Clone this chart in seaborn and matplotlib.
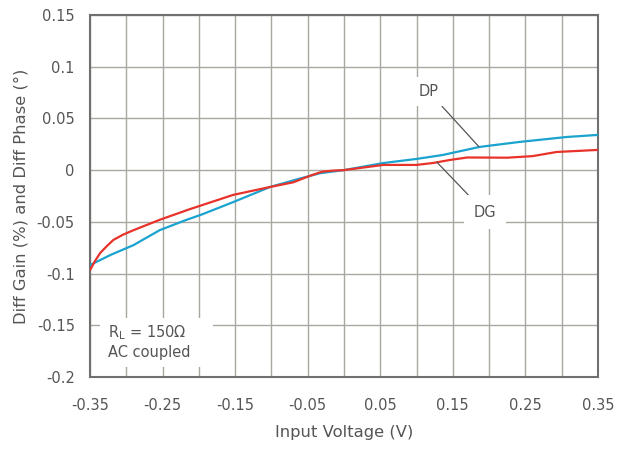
import numpy as np
import pandas as pd
import matplotlib
matplotlib.use('Agg')
import matplotlib.pyplot as plt
from matplotlib.patches import Rectangle
import seaborn as sns

# values
dp_x = [-0.35, -0.322, -0.29, -0.254, -0.217, -0.198, -0.153, -0.102, -0.061, -0.033, 0.0,
        0.054, 0.1, 0.136, 0.187, 0.242, 0.307, 0.35]
dp_y = [-0.0917, -0.082, -0.0724, -0.058, -0.048, -0.0434, -0.031, -0.0163, -0.0082, -0.003, 0.0,
        0.0068, 0.0108, 0.0146, 0.0224, 0.0272, 0.032, 0.034]

dg_x = [-0.35, -0.343, -0.336, -0.327, -0.318, -0.305, -0.29, -0.254, -0.212, -0.153, -0.102, -0.07,
        -0.045, -0.03, -0.015, 0.0, 0.054, 0.1, 0.123, 0.146, 0.17, 0.225, 0.26, 0.293, 0.35]
dg_y = [-0.0966, -0.0875, -0.080, -0.0735, -0.0675, -0.0625, -0.058, -0.048, -0.0376, -0.024, -0.0163, -0.0118,
        -0.005, -0.0015, -0.0005, 0.0, 0.005, 0.005, 0.0069, 0.0098, 0.0122, 0.012, 0.0135, 0.0175, 0.0195]

x_ticks = [-0.35, -0.25, -0.15, -0.05, 0.05, 0.15, 0.25, 0.35]
x_labels = ['-0.35', '-0.25', '-0.15', '-0.05', '0.05', '0.15', '0.25', '0.35']
y_ticks = [-0.2, -0.15, -0.1, -0.05, 0, 0.05, 0.1, 0.15]
y_labels = ['-0.2', '-0.15', '-0.1', '-0.05', '0', '0.05', '0.1', '0.15']

sns.set_style('white')
plt.rcParams['font.family'] = ['DejaVu Sans']
text_col = '#555555'

df = pd.concat([
    pd.DataFrame({'x': dp_x, 'y': dp_y, 'series': 'DP'}),
    pd.DataFrame({'x': dg_x, 'y': dg_y, 'series': 'DG'}),
])

fig = plt.figure(figsize=(6.17, 4.49), dpi=100)
ax = fig.add_axes([0.146, 0.160, 0.823, 0.807])

sns.lineplot(data=df, x='x', y='y', hue='series', sort=False,
             palette={'DP': '#1aa3cf', 'DG': '#e8322a'}, linewidth=1.6,
             legend=False, ax=ax, zorder=3)

ax.set_xlim(-0.35, 0.35)
ax.set_ylim(-0.2, 0.15)
ax.set_xticks(x_ticks)
ax.set_xticklabels(x_labels)
ax.set_xticks(np.arange(-0.3, 0.31, 0.1), minor=True)
ax.set_yticks(y_ticks)
ax.set_yticklabels(y_labels)
ax.grid(True, which='both', color='#a8a8a0', linewidth=1.0, zorder=0)
ax.set_axisbelow(True)
ax.tick_params(which='both', length=0, labelsize=10.5, colors=text_col)
ax.tick_params(axis='x', pad=15)
ax.tick_params(axis='y', pad=11)
for s in ax.spines.values():
    s.set_color('#707070')
    s.set_linewidth(1.5)

ax.set_xlabel('Input Voltage (V)', fontsize=11.8, color=text_col, labelpad=9)
ax.set_ylabel('Diff Gain (%) and Diff Phase (°)', fontsize=11.8, color=text_col, labelpad=6)

ax.annotate('DP', xy=(0.186, 0.0226), xytext=(0.117, 0.0756), fontsize=10.5, color=text_col,
            ha='center', va='center', bbox=dict(facecolor='white', edgecolor='none', pad=5),
            arrowprops=dict(arrowstyle='-', color='#555555', lw=0.9, shrinkA=0, shrinkB=0), zorder=5)
ax.annotate('DG', xy=(0.128, 0.0077), xytext=(0.194, -0.0405), fontsize=10.5, color=text_col,
            ha='center', va='center', bbox=dict(facecolor='white', edgecolor='none', pad=7),
            arrowprops=dict(arrowstyle='-', color='#555555', lw=0.9, shrinkA=0, shrinkB=0), zorder=5)

ax.add_patch(Rectangle((-0.336, -0.190), 0.1555, 0.047, facecolor='white', edgecolor='none', zorder=4))
ax.text(-0.325, -0.166, 'R$_\\mathregular{L}$ = 150Ω\nAC coupled', fontsize=10.5, color=text_col,
        ha='left', va='center', linespacing=1.25, zorder=5)

fig.savefig('out.png', dpi=100)
